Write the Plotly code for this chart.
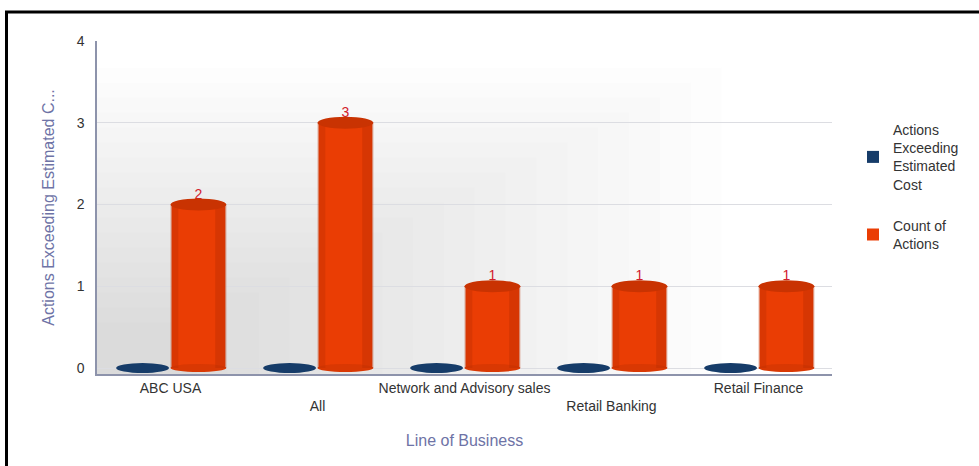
import plotly.graph_objects as go

# data
categories = ["ABC USA", "All", "Network and Advisory sales", "Retail Banking", "Retail Finance"]
exceeding_cost = [0, 0, 0, 0, 0]
count_actions = [2, 3, 1, 1, 1]
y_ticks = [0, 1, 2, 3, 4]

# layout in pixels
W, H = 979, 466
ML, MR, MT, MB = 97, 147, 41, 92
PW, PH = W - ML - MR, H - MT - MB

BLUE = "#163c69"
RED = "#ea3d04"
RED_DARK = "#b92e02"
FONT = "Liberation Sans, Arial, sans-serif"

# staggered category labels (every second one drops a line)
tick_text = [c if i % 2 == 0 else "<br>" + c for i, c in enumerate(categories)]

fig = go.Figure()
fig.add_trace(go.Bar(
    x=categories, y=exceeding_cost,
    name="Actions<br>Exceeding<br>Estimated<br>Cost",
    legendgroup="a",
    marker=dict(color=BLUE, line=dict(width=0)),
))
fig.add_trace(go.Bar(
    x=categories, y=count_actions,
    name="Count of<br>Actions",
    legendgroup="b",
    marker=dict(color=RED, line=dict(width=0)),
    text=[str(v) for v in count_actions],
    textposition="outside",
    textfont=dict(color="#d2202c", size=14, family=FONT),
    cliponaxis=False,
))

bargap = 0.24
bw = (1 - bargap) / 2
shapes = []

# soft grey back wall, darker towards bottom-left
n = 18
for k in range(n):
    shapes.append(dict(type="rect", xref="x domain", yref="y domain",
                       x0=0, x1=0.85 - k * 0.042, y0=0, y1=0.92 - k * 0.045,
                       fillcolor="rgba(150,156,164,0.022)", line_width=0, layer="below"))

for i, (b, r) in enumerate(zip(exceeding_cost, count_actions)):
    # blue zero bars drawn as flat discs
    bx0, bx1 = i - bw + 0.01, i - 0.01
    shapes.append(dict(type="circle", xref="x", yref="y", ysizemode="pixel", yanchor=b,
                       x0=bx0, x1=bx1, y0=-5, y1=5, fillcolor=BLUE, line_width=0))
    # red cylinders: rounded bottom, shaded edges, darker top cap
    rx0, rx1 = i, i + bw
    shapes.append(dict(type="circle", xref="x", yref="y", ysizemode="pixel", yanchor=0,
                       x0=rx0, x1=rx1, y0=-4, y1=4, fillcolor="#d93803", line_width=0))
    shapes.append(dict(type="rect", xref="x", yref="y", x0=rx0, x1=rx0 + bw * 0.14,
                       y0=0, y1=r, fillcolor=RED_DARK, opacity=0.35, line_width=0))
    shapes.append(dict(type="rect", xref="x", yref="y", x0=rx1 - bw * 0.2, x1=rx1,
                       y0=0, y1=r, fillcolor=RED_DARK, opacity=0.4, line_width=0))
    shapes.append(dict(type="circle", xref="x", yref="y", ysizemode="pixel", yanchor=r,
                       x0=rx0, x1=rx1, y0=-6, y1=6, fillcolor="#c93302", line_width=0))

# black frame on top and left
px = lambda p: (p - ML) / PW
py = lambda p: (H - MB - p) / PH
shapes.append(dict(type="path", xref="paper", yref="paper",
                   path=f"M {px(6.5)},{py(H + 5)} L {px(6.5)},{py(12)} L {px(W + 5)},{py(12)}",
                   line=dict(color="black", width=3)))

fig.update_layout(
    width=W, height=H,
    margin=dict(l=ML, r=MR, t=MT, b=MB),
    paper_bgcolor="white",
    plot_bgcolor="white",
    barmode="group",
    bargap=bargap,
    bargroupgap=0.04,
    font=dict(family=FONT, size=14, color="#333333"),
    shapes=shapes,
    showlegend=True,
    legend=dict(x=px(853), xanchor="left", y=py(114), yanchor="top",
                font=dict(size=14, color="#333333"),
                traceorder="grouped", tracegroupgap=20,
                bgcolor="rgba(0,0,0,0)"),
    xaxis=dict(
        tickmode="array", tickvals=categories, ticktext=tick_text,
        showline=True, linecolor="#8d93ab", linewidth=1.5,
        showgrid=False, ticks="",
        tickfont=dict(size=14, color="#333333"),
        title=dict(text="Line of Business", font=dict(size=16, color="#6e73a6"), standoff=22),
    ),
    yaxis=dict(
        range=[-0.073, 4], tickvals=y_ticks,
        showline=True, linecolor="#8d93ab", linewidth=1.5,
        showgrid=True, gridcolor="#dcdde2", zeroline=False, ticks="",
        ticklabelstandoff=8,
        tickfont=dict(size=14, color="#333333"),
        title=dict(text="Actions Exceeding Estimated C...", font=dict(size=16, color="#6e73a6"), standoff=18),
    ),
)

fig.write_html("out.html", config={"displayModeBar": False},
               post_script="document.body.style.margin='0px';")
